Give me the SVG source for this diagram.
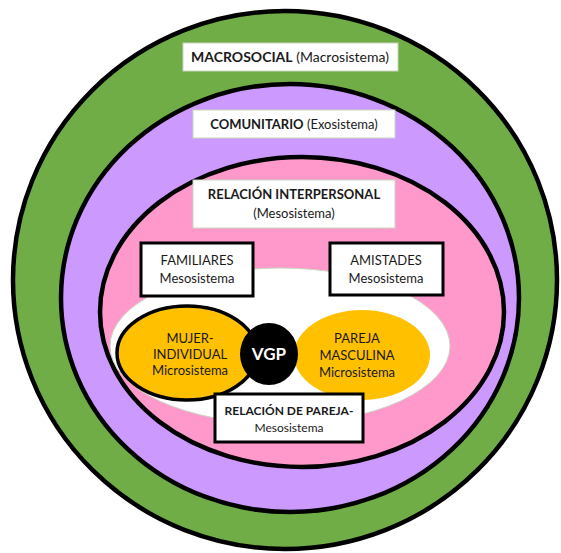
<svg xmlns="http://www.w3.org/2000/svg" width="561" height="553" viewBox="0 0 561 553">
<style>
.ring{stroke:#000;stroke-width:4.5}
.lbl{fill:#fff;stroke:#c9d6bf;stroke-width:1}
.box{fill:#fff;stroke:#000;stroke-width:3}
text{font-family:Lato,"Open Sans","Liberation Sans",sans-serif;fill:#1a1a1a;text-anchor:middle}
.b{font-weight:bold}
</style>
<rect width="561" height="553" fill="#fff"/>
<g id="macro">
<ellipse class="ring" cx="285" cy="280" rx="272" ry="269" fill="#70AD47"/>
</g>
<g id="comunitario">
<ellipse class="ring" cx="290" cy="298" rx="229" ry="214" fill="#CC99FF"/>
</g>
<g id="interpersonal">
<ellipse class="ring" cx="302" cy="312" rx="202" ry="155" fill="#FF99CC"/>
</g>
<g id="pareja-area">
<ellipse cx="280" cy="346" rx="170" ry="78" fill="#fff" stroke="#c9d6bf" stroke-width="1"/>
</g>
<g id="pareja-masculina">
<ellipse cx="362" cy="355" rx="68" ry="45" fill="#FFC000"/>
<text x="357" y="343" font-size="13">PAREJA</text>
<text x="357" y="360" font-size="13">MASCULINA</text>
<text x="357" y="377" font-size="13">Microsistema</text>
</g>
<g id="mujer">
<ellipse cx="187" cy="353" rx="70" ry="47" fill="#FFC000" stroke="#000" stroke-width="3.5"/>
<text x="190" y="343" font-size="13">MUJER-</text>
<text x="190" y="359" font-size="13">INDIVIDUAL</text>
<text x="190" y="375" font-size="13">Microsistema</text>
</g>
<g id="vgp">
<ellipse cx="269" cy="354" rx="29" ry="31" fill="#000"/>
<text x="269" y="360" font-size="17" class="b" style="fill:#fff">VGP</text>
</g>
<g id="lbl-macro">
<rect class="lbl" x="183" y="43" width="215" height="28"/>
<text x="290" y="62" font-size="14"><tspan class="b">MACROSOCIAL</tspan> (Macrosistema)</text>
</g>
<g id="lbl-comunitario">
<rect class="lbl" x="193" y="110" width="202" height="28"/>
<text x="294" y="129" font-size="13"><tspan class="b">COMUNITARIO</tspan> (Exosistema)</text>
</g>
<g id="lbl-interpersonal">
<rect class="lbl" x="193" y="180" width="202" height="48"/>
<text x="294" y="199" font-size="13" class="b">RELACIÓN INTERPERSONAL</text>
<text x="294" y="218" font-size="13">(Mesosistema)</text>
</g>
<g id="familiares">
<rect class="box" x="141" y="243" width="112" height="53"/>
<text x="197" y="265" font-size="13">FAMILIARES</text>
<text x="197" y="283" font-size="13">Mesosistema</text>
</g>
<g id="amistades">
<rect class="box" x="330" y="243" width="113" height="52"/>
<text x="386" y="265" font-size="13">AMISTADES</text>
<text x="386" y="283" font-size="13">Mesosistema</text>
</g>
<g id="relacion-pareja">
<rect class="box" x="215" y="394" width="148" height="48"/>
<text x="289" y="415" font-size="12" class="b">RELACIÓN DE PAREJA-</text>
<text x="289" y="432" font-size="12">Mesosistema</text>
</g>
<g id="connectors"></g>
</svg>
